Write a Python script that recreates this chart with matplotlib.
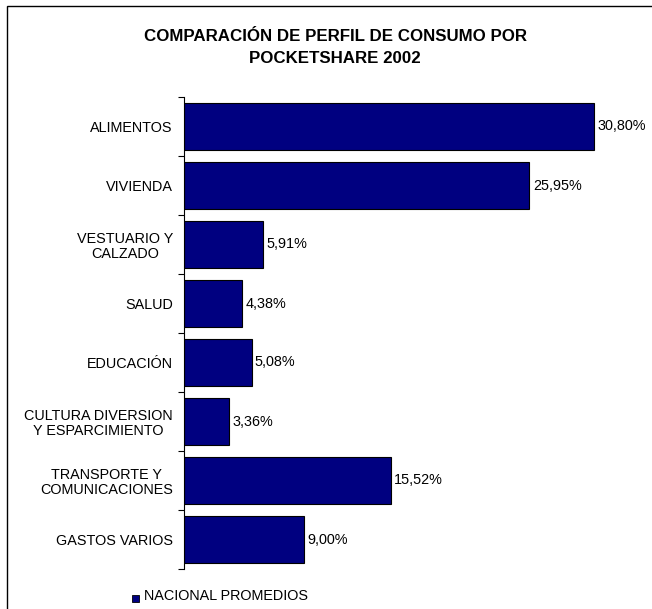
import matplotlib
matplotlib.use("Agg")
import matplotlib.pyplot as plt
from matplotlib.patches import Rectangle

categories = ["ALIMENTOS", "VIVIENDA", "VESTUARIO Y\nCALZADO", "SALUD", "EDUCACIÓN",
              "CULTURA DIVERSION\nY ESPARCIMIENTO", "TRANSPORTE Y\nCOMUNICACIONES", "GASTOS VARIOS"]
values = [30.80, 25.95, 5.91, 4.38, 5.08, 3.36, 15.52, 9.00]
value_labels = ["30,80%", "25,95%", "5,91%", "4,38%", "5,08%", "3,36%", "15,52%", "9,00%"]
series_name = "NACIONAL PROMEDIOS"
title = "COMPARACIÓN DE PERFIL DE CONSUMO POR\nPOCKETSHARE 2002"

plt.rcParams['font.family'] = ['Liberation Sans', 'DejaVu Sans']

W, H = 652, 609
fig = plt.figure(figsize=(W/100, H/100), dpi=100)

# outer frame
fig.patches.append(Rectangle((7/W, -0.05), 1.1, 1 - 6/H + 0.05, transform=fig.transFigure,
                             fill=False, edgecolor='black', linewidth=1.0, clip_on=False))

scale = 410 / 30.8
ax = fig.add_axes([184/W, 1 - 569/H, 466/W, (569 - 97)/H])
n = len(categories)
ypos = list(range(n))
ax.barh(ypos, values, height=0.78, color='#000080', edgecolor='black', linewidth=0.8)
ax.set_ylim(n - 0.5, -0.5)
ax.set_xlim(0, 466/scale)

for y, v, lab in zip(ypos, values, value_labels):
    ax.text(v + 0.25, y, lab, va='center', ha='left', fontsize=10.4)

ax.set_yticks(ypos)
ax.set_yticklabels(categories, fontsize=10.4, multialignment='center', linespacing=1.08)
ax.set_yticks([i - 0.5 for i in range(n + 1)], minor=True)
ax.tick_params(axis='y', which='major', length=0, pad=8)
ax.tick_params(axis='y', which='minor', length=4, width=0.8, direction='out')
ax.set_xticks([])
for s in ['top', 'right', 'bottom']:
    ax.spines[s].set_visible(False)
ax.spines['left'].set_linewidth(0.8)

fig.text(335/W, 1 - 47.5/H, title, ha='center', va='center', fontsize=12.2,
         fontweight='bold', linespacing=1.55)

# legend
fig.patches.append(Rectangle((132/W, 1 - 602/H), 7/W, 7/H, transform=fig.transFigure,
                             facecolor='#000080', edgecolor='black', linewidth=0.6))
fig.text(144/W, 1 - 596/H, series_name, ha='left', va='center', fontsize=10.4)

fig.savefig("out.png", dpi=100)
